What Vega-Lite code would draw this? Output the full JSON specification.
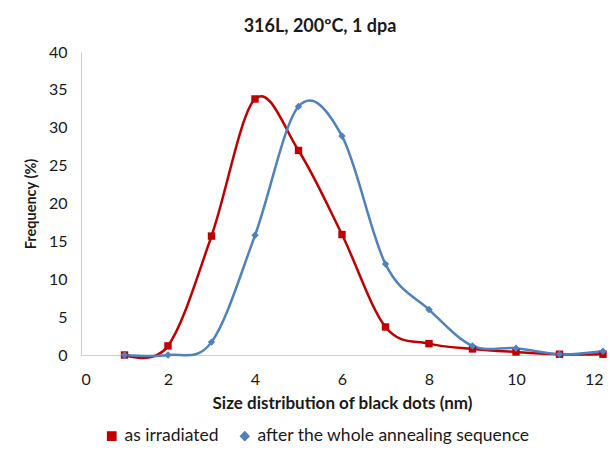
{
  "$schema": "https://vega.github.io/schema/vega-lite/v6.json",
  "autosize": "none",
  "width": 522,
  "height": 303,
  "padding": {"left": 81, "top": 52, "right": 7, "bottom": 95},
  "background": "white",
  "title": {"text": "316L, 200ºC, 1 dpa", "font": "Lato", "fontSize": 18, "fontWeight": "bold", "color": "#1a1a1a", "anchor": "middle", "dx": -22, "offset": 8},
  "data": {"values": [
    {"size": 1, "freq": 0, "series": "as irradiated"},
    {"size": 2, "freq": 1.2, "series": "as irradiated"},
    {"size": 3, "freq": 15.7, "series": "as irradiated"},
    {"size": 4, "freq": 33.8, "series": "as irradiated"},
    {"size": 5, "freq": 27.0, "series": "as irradiated"},
    {"size": 6, "freq": 15.9, "series": "as irradiated"},
    {"size": 7, "freq": 3.7, "series": "as irradiated"},
    {"size": 8, "freq": 1.5, "series": "as irradiated"},
    {"size": 9, "freq": 0.8, "series": "as irradiated"},
    {"size": 10, "freq": 0.4, "series": "as irradiated"},
    {"size": 11, "freq": 0.1, "series": "as irradiated"},
    {"size": 12, "freq": 0.1, "series": "as irradiated"},
    {"size": 1, "freq": 0, "series": "after the whole annealing sequence"},
    {"size": 2, "freq": 0, "series": "after the whole annealing sequence"},
    {"size": 3, "freq": 1.7, "series": "after the whole annealing sequence"},
    {"size": 4, "freq": 15.8, "series": "after the whole annealing sequence"},
    {"size": 5, "freq": 32.8, "series": "after the whole annealing sequence"},
    {"size": 6, "freq": 28.9, "series": "after the whole annealing sequence"},
    {"size": 7, "freq": 12.0, "series": "after the whole annealing sequence"},
    {"size": 8, "freq": 6.0, "series": "after the whole annealing sequence"},
    {"size": 9, "freq": 1.2, "series": "after the whole annealing sequence"},
    {"size": 10, "freq": 0.9, "series": "after the whole annealing sequence"},
    {"size": 11, "freq": 0.1, "series": "after the whole annealing sequence"},
    {"size": 12, "freq": 0.5, "series": "after the whole annealing sequence"}
  ]},
  "mark": {"type": "line", "interpolate": "cardinal", "strokeWidth": 2.5, "point": {"filled": true, "opacity": 1, "size": 55}},
  "encoding": {
    "x": {"field": "size", "type": "quantitative",
      "scale": {"domain": [0, 12], "nice": false},
      "axis": {"values": [0, 2, 4, 6, 8, 10, 12], "title": "Size distribution of black dots (nm)", "grid": false, "ticks": false, "labelPadding": 16, "titlePadding": 8}},
    "y": {"field": "freq", "type": "quantitative",
      "scale": {"domain": [0, 40], "nice": false},
      "axis": {"values": [0, 5, 10, 15, 20, 25, 30, 35, 40], "title": "Frequency (%)", "grid": false, "ticks": false, "labelPadding": 14, "titlePadding": 10, "titleFontSize": 14.5}},
    "color": {"field": "series", "type": "nominal",
      "scale": {"domain": ["as irradiated", "after the whole annealing sequence"], "range": ["#C00000", "#4F81BD"]},
      "legend": {"orient": "none", "legendX": 22, "legendY": 375, "direction": "horizontal", "title": null}},
    "shape": {"field": "series", "type": "nominal",
      "scale": {"domain": ["as irradiated", "after the whole annealing sequence"], "range": ["square", "diamond"]},
      "legend": {"orient": "none", "legendX": 22, "legendY": 375, "direction": "horizontal", "title": null}}
  },
  "config": {
    "font": "Lato",
    "view": {"stroke": null},
    "axis": {"domainColor": "#D0D0D0", "domainWidth": 1, "labelFont": "Lato", "labelFontSize": 16, "labelColor": "#1a1a1a", "titleFont": "Lato", "titleFontSize": 17, "titleFontWeight": "bold", "titleColor": "#1a1a1a"},
    "legend": {"labelFont": "Lato", "labelFontSize": 17.5, "labelColor": "#1a1a1a", "labelLimit": 400, "symbolSize": 60, "columnPadding": 17, "symbolStrokeWidth": 2}
  }
}
